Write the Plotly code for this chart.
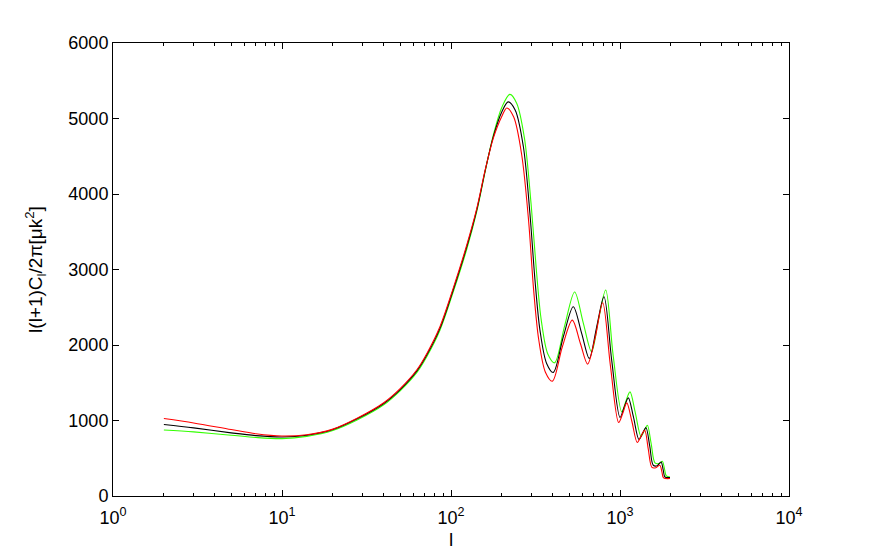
import plotly.graph_objects as go

# multipole l and l(l+1)C_l/2pi for the three models
l_black = [2, 3, 5, 7, 10, 14, 20, 28, 40, 50, 63, 72, 86, 103, 124, 142, 160, 178,
           200, 218, 240, 268, 293, 314, 336, 368, 403, 462, 529, 593, 658, 728, 804,
           893, 1000, 1060, 1120, 1200, 1295, 1360, 1425, 1500, 1574, 1660, 1750,
           1800, 1845, 1976]
cl_black = [947, 902, 836, 800, 782, 805, 880, 1025, 1225, 1410, 1660, 1870, 2220,
             2728, 3302, 3789, 4330, 4761, 5090, 5220, 5110, 4629, 3745, 2861, 2198,
             1756, 1637, 2109, 2507, 2154, 1822, 2241, 2639, 1800, 1040, 1180, 1300,
             1050, 748, 830, 905, 660, 407, 400, 451, 350, 252, 244]

l_green = [2, 3, 5, 7, 10, 14, 20, 28, 40, 50, 63, 72, 86, 103, 124, 142, 160, 178,
           200, 223, 245, 272, 298, 320, 342, 374, 410, 470, 539, 605, 679, 745, 823,
           910, 1024, 1085, 1146, 1230, 1331, 1395, 1452, 1530, 1610, 1700, 1780,
           1830, 1880, 1976]
cl_green = [875, 849, 805, 775, 760, 790, 868, 1010, 1208, 1393, 1640, 1848, 2195,
             2700, 3270, 3765, 4320, 4780, 5150, 5320, 5200, 4740, 3860, 2990, 2330,
             1880, 1764, 2250, 2702, 2300, 1910, 2330, 2728, 1870, 1114, 1260, 1379,
             1110, 792, 870, 938, 690, 440, 430, 460, 370, 265, 250]

l_red = [2, 3, 5, 7, 10, 14, 20, 28, 40, 50, 63, 72, 86, 103, 124, 142, 160, 178,
         200, 214, 235, 262, 288, 308, 330, 362, 398, 455, 522, 583, 643, 712, 790,
         877, 982, 1040, 1097, 1175, 1265, 1330, 1400, 1470, 1545, 1630, 1720, 1770,
         1810, 1976]
cl_red = [1026, 968, 880, 825, 795, 812, 886, 1033, 1235, 1422, 1675, 1888, 2242,
           2750, 3325, 3805, 4335, 4740, 5030, 5140, 5020, 4520, 3640, 2740, 2080,
           1640, 1521, 1970, 2330, 2020, 1747, 2090, 2560, 1730, 973, 1100, 1233,
           990, 708, 790, 871, 620, 380, 375, 407, 320, 240, 231]

x_tickvals = [1, 10, 100, 1000, 10000]
x_ticktext = ["10<sup>0</sup>", "10<sup>1</sup>", "10<sup>2</sup>",
              "10<sup>3</sup>", "10<sup>4</sup>"]
y_tickvals = [0, 1000, 2000, 3000, 4000, 5000, 6000]

font = dict(family="Liberation Sans, Arial, sans-serif", size=18, color="black")
title_font = dict(family="Liberation Sans, Arial, sans-serif", size=19, color="black")

fig = go.Figure()
for lx, cy, col in [(l_green, cl_green, "#33ff00"),
                    (l_black, cl_black, "black"),
                    (l_red, cl_red, "#ff0000")]:
    fig.add_trace(go.Scatter(x=lx, y=cy, mode="lines",
                             line=dict(color=col, width=1.1, shape="spline", smoothing=0.9),
                             showlegend=False))

minor_x = [m * 10 ** d for d in range(4) for m in range(2, 10)]

fig.update_xaxes(type="log", range=[0, 4], tickmode="array",
                 tickvals=x_tickvals, ticktext=x_ticktext,
                 ticks="inside", ticklen=6, tickcolor="black", ticklabelstandoff=5,
                 minor=dict(tickmode="array", tickvals=minor_x, ticks="inside",
                            ticklen=3, tickcolor="black", showgrid=False),
                 showline=True, linecolor="black", linewidth=1, mirror="allticks",
                 showgrid=False, zeroline=False, tickfont=font,
                 title=dict(text="l", font=title_font, standoff=6))
fig.update_yaxes(range=[0, 6000], tickmode="array", tickvals=y_tickvals,
                 ticks="inside", ticklen=6, tickcolor="black",
                 showline=True, linecolor="black", linewidth=1, mirror="allticks",
                 showgrid=False, zeroline=False, tickfont=font,
                 title=dict(text="l(l+1)C<sub>l</sub>/2π[μk<sup>2</sup>]",
                            font=title_font, standoff=20))

# the page body adds an 8px offset, so the margins are shifted to compensate
fig.update_layout(width=872, height=558,
                  margin=dict(l=105, r=91, t=35, b=70),
                  plot_bgcolor="white", paper_bgcolor="white", font=font)

fig.write_html("out.html")
